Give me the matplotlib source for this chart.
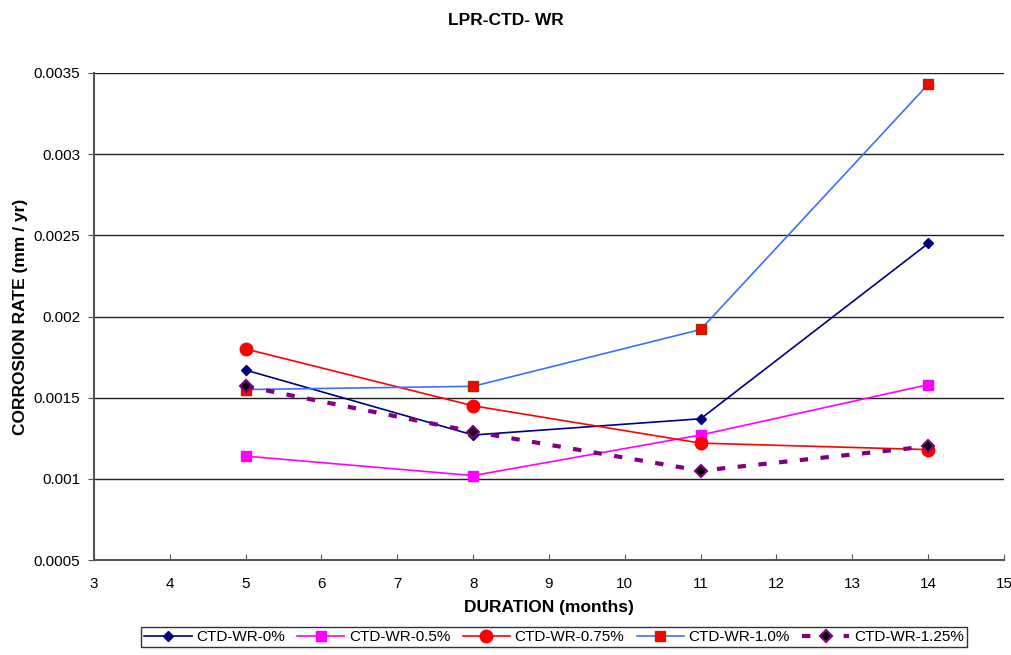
import matplotlib
matplotlib.use("Agg")
import matplotlib.pyplot as plt

plt.rcParams['font.family'] = ['Liberation Sans', 'DejaVu Sans']

months = [5, 8, 11, 14]
wr_0 = [0.00167, 0.00127, 0.00137, 0.00245]
wr_05 = [0.00114, 0.00102, 0.00127, 0.00158]
wr_075 = [0.00180, 0.00145, 0.00122, 0.00118]
wr_10 = [0.00155, 0.00157, 0.00192, 0.00343]
wr_125 = [0.00157, 0.00129, 0.00105, 0.00120]

x_ticks = list(range(3, 16))
y_ticks = [0.0005, 0.001, 0.0015, 0.002, 0.0025, 0.003, 0.0035]
y_tick_labels = ['0.0005', '0.001', '0.0015', '0.002', '0.0025', '0.003', '0.0035']

fig = plt.figure(figsize=(10.11, 6.55), dpi=100)
ax = fig.add_axes([94 / 1011, 1 - 560 / 655, 910 / 1011, 487 / 655])

ax.plot(months, wr_0, color='#000080', lw=1.2, marker='D', ms=5,
        mfc='#000080', mec='#000080', label='CTD-WR-0%', zorder=3)
ax.plot(months, wr_05, color='#FF00FF', lw=1.2, marker='s', ms=7,
        mfc='#FF00FF', mec='#FF00FF', label='CTD-WR-0.5%', zorder=3)
ax.plot(months, wr_075, color='#FF0000', lw=1.2, marker='o', ms=9,
        mfc='#FF0000', mec='#FF0000', label='CTD-WR-0.75%', zorder=3)
ax.plot(months, wr_10, color='#3D6FFF', lw=1.2, marker='s', ms=7,
        mfc='#FF0000', mec='#993300', label='CTD-WR-1.0%', zorder=3)
ax.plot(months, wr_125, color='#800080', lw=3, ls=(0, (2, 3)), marker='D', ms=6,
        mfc='#000000', mec='#800080', mew=1.5, label='CTD-WR-1.25%', zorder=4)

ax.set_xlim(3, 15)
ax.set_ylim(0.0005, 0.0035)
ax.set_xticks(x_ticks)
ax.set_yticks(y_ticks)
ax.set_yticklabels(y_tick_labels)
ax.tick_params(axis='x', direction='in', length=4, labelsize=11, pad=12, color='#555555')
ax.tick_params(axis='y', direction='out', length=4, labelsize=11, pad=6, color='#555555')

ax.grid(axis='y', color='#222222', lw=1)
ax.set_axisbelow(True)
for s in ['top', 'right']:
    ax.spines[s].set_visible(False)
for s in ['left', 'bottom']:
    ax.spines[s].set_color('#555555')
    ax.spines[s].set_linewidth(1.5)

ax.set_xlabel('DURATION (months)', fontsize=12.5, fontweight='bold', labelpad=7)
ax.set_ylabel('CORROSION RATE (mm / yr)', fontsize=12.5, fontweight='bold', labelpad=4)
fig.text(0.5, 0.968, 'LPR-CTD- WR', ha='center', va='center', fontsize=12.5, fontweight='bold')

leg = fig.legend(loc='center', bbox_to_anchor=(0.548, 0.0275), ncol=5, fontsize=11,
                 frameon=True, fancybox=False, edgecolor='black', handlelength=3.1,
                 columnspacing=0.8, handletextpad=0.3, borderpad=0.2)
leg.get_frame().set_linewidth(1)

fig.savefig('out.png', dpi=100)
